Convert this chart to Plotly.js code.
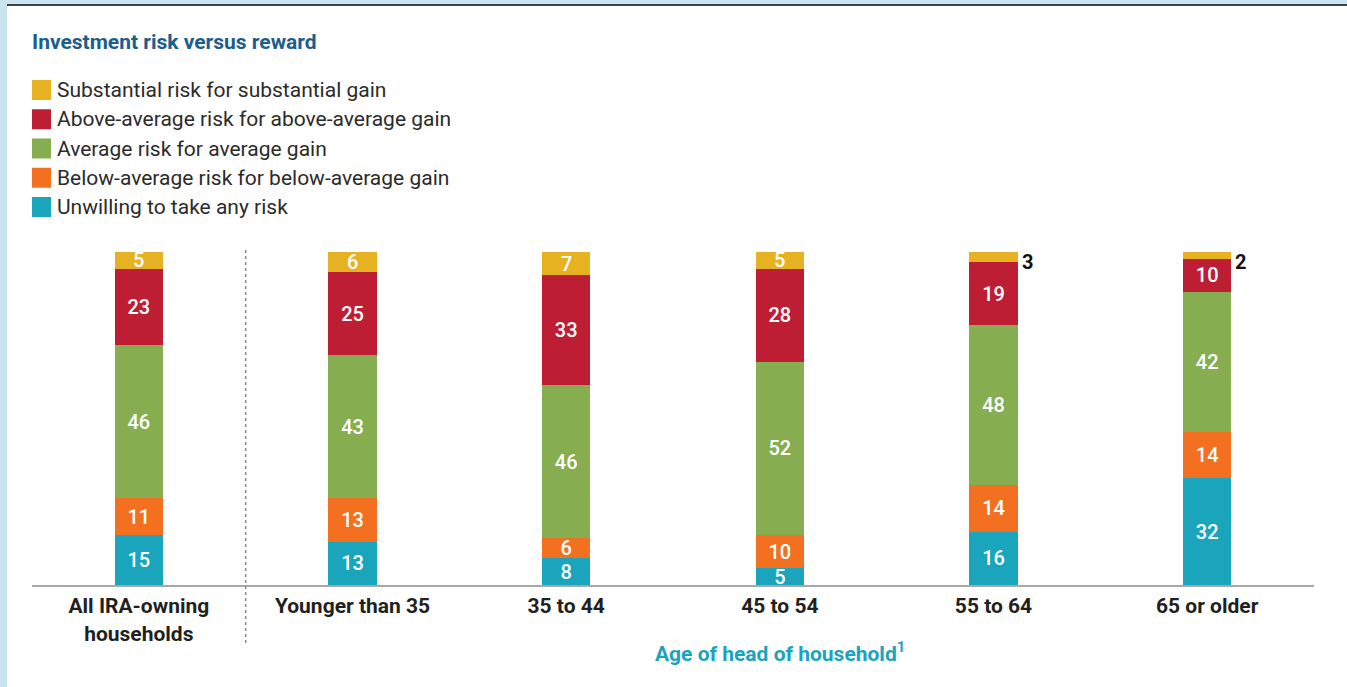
<!DOCTYPE html>
<html>
<head>
<meta charset="utf-8">
<script src="https://cdn.plot.ly/plotly-3.0.1.min.js"></script>
<style>
  html, body { margin: 0; padding: 0; background: #c9e3ef; width: 1347px; height: 687px; overflow: hidden; }
  #topline { position: absolute; left: 7px; top: 4px; width: 1340px; height: 2px; background: #3f4246; }
  #chart { position: absolute; left: 7px; top: 6px; width: 1340px; height: 681px; background: #ffffff; }
</style>
</head>
<body>
<div id="topline"></div>
<div id="chart"></div>
<script>
// ---- data ----
const categories = ["All IRA-owning<br>households", "Younger than 35", "35 to 44", "45 to 54", "55 to 64", "65 or older"];
const seriesNames = [
  "Unwilling to take any risk",
  "Below-average risk for below-average gain",
  "Average risk for average gain",
  "Above-average risk for above-average gain",
  "Substantial risk for substantial gain"
];
const unwilling    = [15, 13, 8, 5, 16, 32];
const belowAverage = [11, 13, 6, 10, 14, 14];
const average      = [46, 43, 46, 52, 48, 42];
const aboveAverage = [23, 25, 33, 28, 19, 10];
const substantial  = [5, 6, 7, 5, 3, 2];
const xAxisTitle = "Age of head of household<sup>1</sup>";
const chartTitle = "Investment risk versus reward";

// ---- style ----
const colors = ["#1aa5bd", "#f37021", "#86ad4f", "#be1e34", "#e6b222"];
const seriesValues = [unwilling, belowAverage, average, aboveAverage, substantial];
const FONT = "Roboto, 'Open Sans', sans-serif";
const SMALL = 4; // values below this are labelled beside the bar
const topIndex = seriesValues.length - 1;

const xIdx = categories.map((c, i) => i);

const traces = seriesValues.map((vals, s) => {
  const t = {
    type: "bar",
    name: seriesNames[s],
    x: xIdx,
    y: vals,
    marker: { color: colors[s], line: { width: 0 } },
    width: 0.225,
    showlegend: false,
    hoverinfo: "skip"
  };
  if (s !== topIndex) {
    t.text = vals.map(v => String(v));
    t.textposition = "inside";
    t.insidetextanchor = "middle";
    t.textangle = 0;
    t.constraintext = "none";
    t.insidetextfont = { color: "#ffffff", size: 20, family: FONT, weight: 500 };
  }
  return t;
});

const annotations = [];
const shapes = [];

// labels of the top segments (inside when large enough, beside when tiny)
substantial.forEach((v, i) => {
  const base = seriesValues.slice(0, topIndex).reduce((acc, arr) => acc + arr[i], 0);
  if (v < SMALL) {
    annotations.push({
      x: i, y: base + v, xref: "x", yref: "y",
      text: String(v), showarrow: false,
      xanchor: "left", yanchor: "top", xshift: 26, yshift: 4,
      font: { size: 20, color: "#111111", family: FONT, weight: 700 }
    });
  } else {
    annotations.push({
      x: i, y: base + v / 2, xref: "x", yref: "y",
      text: String(v), showarrow: false,
      xanchor: "center", yanchor: "middle",
      font: { size: 20, color: "#ffffff", family: FONT, weight: 500 }
    });
  }
});

// custom legend (top item first)
const plotTopPx = 246, plotHeightPx = 333, plotLeftPx = 25, plotWidthPx = 1282;
const legendRowsPx = [84, 113.25, 142.5, 171.75, 201];
const legendOrder = [4, 3, 2, 1, 0];
legendOrder.forEach((s, r) => {
  const yp = (plotTopPx + plotHeightPx - legendRowsPx[r]) / plotHeightPx;
  shapes.push({
    type: "rect", xref: "paper", yref: "paper",
    xsizemode: "pixel", ysizemode: "pixel",
    xanchor: 0, yanchor: yp,
    x0: 0, x1: 19, y0: -10, y1: 10,
    fillcolor: colors[s], line: { width: 0 }
  });
  annotations.push({
    xref: "paper", yref: "paper",
    x: 23 / plotWidthPx, y: yp,
    xanchor: "left", yanchor: "middle",
    text: seriesNames[s], showarrow: false,
    font: { size: 21, color: "#2b2b2b", family: FONT, weight: 400 }
  });
});

// separator between overall and age groups
shapes.push({
  type: "line", xref: "x", yref: "paper",
  x0: 0.5, x1: 0.5, y0: 1.006, y1: -0.18,
  line: { color: "#8a8a8a", width: 1.5, dash: "dot" }
});

// axis title (centred on the age groups)
annotations.push({
  x: (1 + categories.length - 1) / 2, y: -0.2, xref: "x", yref: "paper",
  text: xAxisTitle, showarrow: false, xanchor: "center", yanchor: "middle",
  font: { size: 21, color: "#1aa3bd", family: FONT, weight: 700 }
});

const layout = {
  width: 1340, height: 681,
  margin: { l: 25, r: 33, t: 246, b: 102 },
  paper_bgcolor: "#ffffff",
  plot_bgcolor: "#ffffff",
  barmode: "stack",
  showlegend: false,
  hovermode: false,
  title: {
    text: chartTitle,
    x: 25 / 1340, xref: "container", xanchor: "left",
    y: 1 - 36 / 681, yref: "container", yanchor: "middle",
    font: { size: 21, color: "#1b5e8c", family: FONT, weight: 700 }
  },
  xaxis: {
    range: [-0.5, categories.length - 0.5],
    tickvals: xIdx, ticktext: categories,
    showline: true, linecolor: "#a8a8a8", linewidth: 2,
    ticks: "", showgrid: false, zeroline: false,
    ticklabelstandoff: 1,
    tickfont: { size: 21, color: "#231f20", family: FONT, weight: 700 },
    fixedrange: true
  },
  yaxis: {
    range: [0, 100], visible: false, showgrid: false, zeroline: false, fixedrange: true
  },
  shapes: shapes,
  annotations: annotations
};

Plotly.newPlot("chart", traces, layout, { displayModeBar: false, staticPlot: true });
</script>
</body>
</html>
